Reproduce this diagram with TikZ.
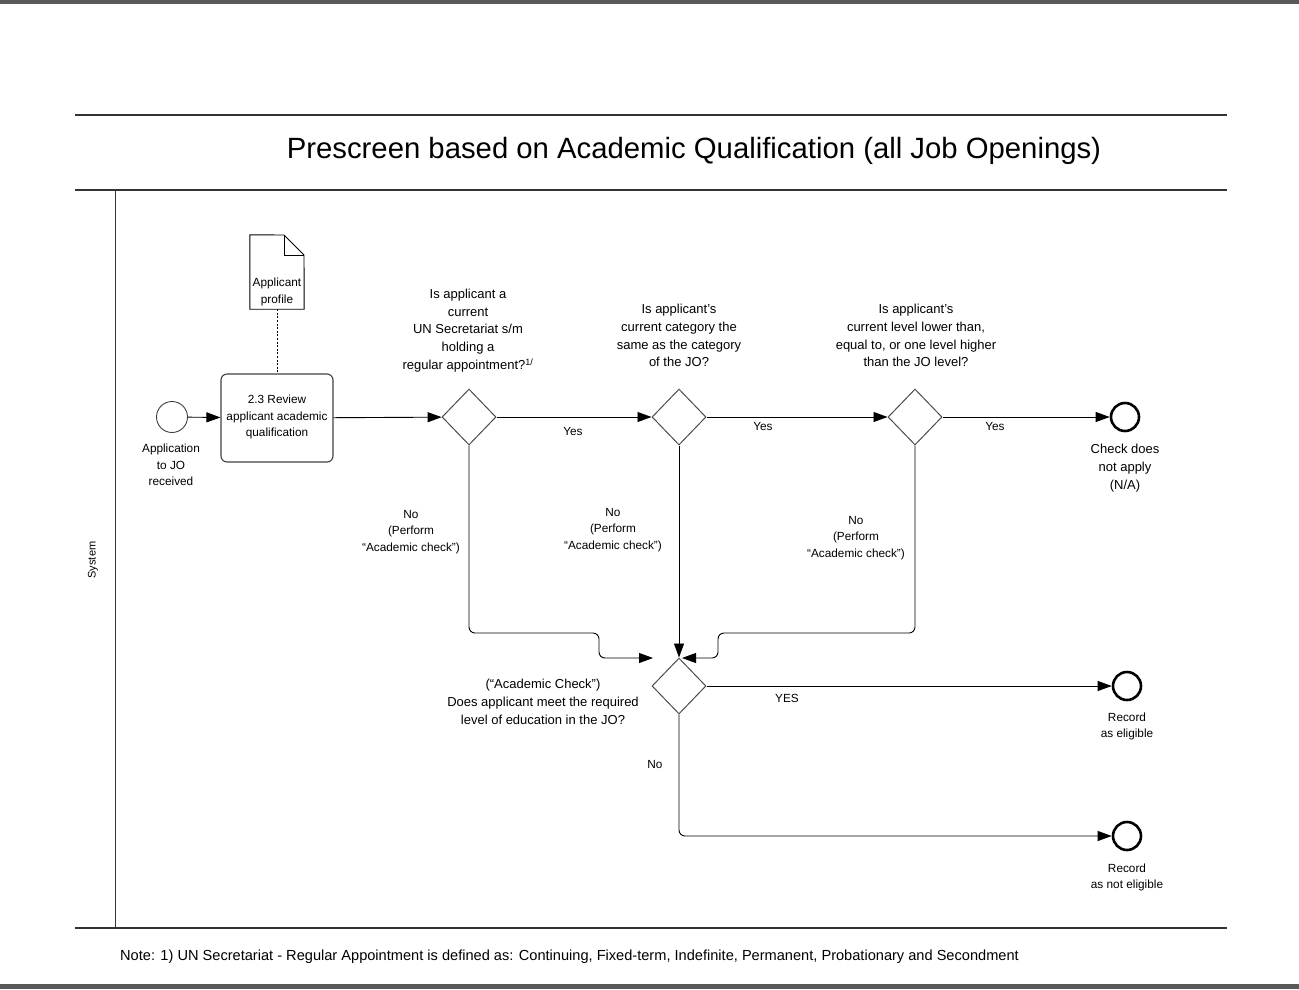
\documentclass[tikz,border=0pt]{standalone}
\usepackage{fontspec}
\setmainfont{Liberation Sans}
\usepackage{tikz}
\usetikzlibrary{shapes.geometric, arrows.meta}

\begin{document}
\begin{tikzpicture}[x=1pt,y=1pt,yscale=-1,
  gateway/.style={diamond, draw=black!70, line width=1pt, minimum width=54pt, minimum height=56pt, inner sep=0pt},
  startev/.style={circle, draw=black!75, line width=0.9pt, minimum size=31pt, inner sep=0pt},
  endev/.style={circle, draw, line width=2.6pt, minimum size=28pt, inner sep=0pt},
  flow/.style={-{Triangle[length=14pt,width=10pt]}, line width=0.9pt},
  lbl/.style={font=\fontsize{11.8}{16.3}\selectfont, align=center, inner sep=0pt},
  qlbl/.style={font=\fontsize{13}{17.8}\selectfont, align=center, inner sep=0pt},
  frameline/.style={line width=1.4pt, draw=black!80}]
\useasboundingbox (0,0) rectangle (1299,989);

%Page bars
\fill[black!65] (0,0) rectangle (1299,4);
\fill[black!65] (0,984) rectangle (1299,989);

%Pool frame
\draw[frameline] (75,115) -- (1227,115);
\draw[frameline] (75,190) -- (1227,190);
\draw[frameline] (75,928) -- (1227,928);
\draw[line width=1pt, black!80] (115,190) -- (115,928);

% Title
\node[font=\fontsize{29.3}{34}\selectfont, inner sep=0pt] (title) at (694,151) {Prescreen based on Academic Qualification (all Job Openings)};
% Lane
\node[font=\fontsize{11}{13}\selectfont, rotate=90, inner sep=0pt] (lane) at (93,560) {System};

%Events and activity
\node[startev] (start) at (172,417) {};
\node[draw=black!75, line width=1.1pt, rounded corners=6pt, minimum width=112pt, minimum height=88pt, inner sep=0pt] (task) at (277,418) {};
\node[lbl] (tasktext) at (277,417) {2.3 Review\\applicant academic\\qualification};

%Data object
\node[minimum width=54pt, minimum height=74pt, inner sep=0pt] (doc) at (277,272) {};
\draw[line width=0.9pt] (doc.south west) -- (doc.north west) -- (284,235) -- (304,255) -- (doc.south east) -- cycle;
\draw[line width=0.9pt] (284,235) -- (284,255) -- (304,255);
\node[lbl] (doctext) at (277,292) {Applicant\\profile};

%Gateways
\node[gateway] (d1) at (469,417) {};
\node[gateway] (d2) at (679,417) {};
\node[gateway] (d3) at (915,417) {};
\node[gateway] (d4) at (679,686) {};

%End events
\node[endev] (e1) at (1125,417) {};
\node[endev] (e2) at (1127,686) {};
\node[endev] (e3) at (1127,836) {};

%Bends and free ends
\coordinate (b1) at (599,633);
\coordinate (j1) at (653,658);
\coordinate (b3) at (718,633);
\coordinate (j3) at (682,658);

%Flows
\draw[flow] (start) -- (task);
\draw[flow] (task) -- (d1);
\draw[flow] (d1) -- (d2);
\draw[flow] (d2) -- (d3);
\draw[flow] (d3) -- (e1);
\draw[flow] (d2) -- (d4);
\draw[flow, rounded corners=6pt] (d1.south) |- (b1) |- (j1);
\draw[flow, rounded corners=6pt] (d3.south) |- (b3) |- (j3);
\draw[flow] (d4) -- (e2);
\draw[flow, rounded corners=6pt] (d4.south) |- (e3);
\draw[dash pattern=on 2pt off 1.6pt, line width=1pt] (doc.south) -- (task.north);

% Text Node
\node[lbl] (startlbl) at (171,465) {Application\\to JO\\received};
% Text Node
\node[qlbl] (q1) at (468,330.5) {Is applicant a\\current\\UN Secretariat s/m\\holding a\\regular appointment?\textsuperscript{1/}};
% Text Node
\node[qlbl] (q2) at (679,335.5) {Is applicant's\\current category the\\same as the category\\of the JO?};
% Text Node
\node[qlbl] (q3) at (916,335.5) {Is applicant's\\current level lower than,\\equal to, or one level higher\\than the JO level?};
% Text Node
\node[qlbl] (q4) at (543,702) {(``Academic Check'')\\Does applicant meet the required\\level of education in the JO?};
% Text Node
\node[lbl] (yes1) at (573,431) {Yes};
\node[lbl] (yes2) at (763,426) {Yes};
\node[lbl] (yes3) at (995,426) {Yes};
\node[lbl] (yes4) at (787,698) {YES};
\node[lbl] (no4) at (655,764) {No};
% Text Node
\node[lbl] (no1) at (411,532) {No\\(Perform\\``Academic check'')};
\node[lbl] (no2) at (613,530) {No\\(Perform\\``Academic check'')};
\node[lbl] (no3) at (856,538) {No\\(Perform\\``Academic check'')};
% Text Node
\node[qlbl] (e1lbl) at (1125,468) {Check does\\not apply\\(N/A)};
\node[lbl] (e2lbl) at (1127,726.5) {Record\\as eligible};
\node[lbl] (e3lbl) at (1127,877.5) {Record\\as not eligible};
% Note
\node[font=\fontsize{14.6}{17}\selectfont, anchor=west, inner sep=0pt] (note) at (120,957) {Note: 1) UN Secretariat - Regular Appointment is defined as: Continuing, Fixed-term, Indefinite, Permanent, Probationary and Secondment};

\end{tikzpicture}
\end{document}
